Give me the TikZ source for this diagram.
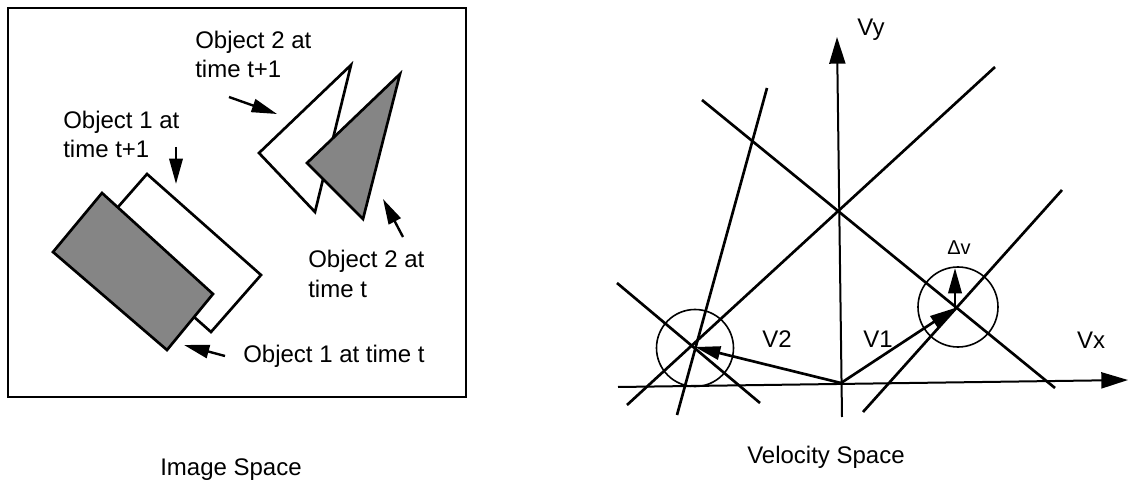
\documentclass[tikz,border=0pt]{standalone}
\usepackage{fontspec}
\setmainfont{Liberation Sans}
\usetikzlibrary{arrows.meta}
\begin{document}
\begin{tikzpicture}[x=0.75pt,y=-0.75pt,
  lbl/.style={font=\fontsize{18}{22}\selectfont, inner sep=0pt, align=left, anchor=base west},
  captext/.style={font=\fontsize{18}{22}\selectfont, inner sep=0pt, anchor=base},
  smalltext/.style={font=\fontsize{15}{17}\selectfont, inner sep=0pt, anchor=base},
  obj/.style={draw, line width=2pt, line join=miter},
  grayobj/.style={obj, fill=black!48},
  pointer/.style={line width=1.8pt, -{Triangle[length=19pt,width=10pt]}},
  vline/.style={line width=2pt},
  ring/.style={line width=1.2pt},
  axis/.style={line width=1.5pt, -{Triangle[length=20pt,width=12pt]}},
  vec/.style={line width=2pt, -{Triangle[length=19pt,width=10pt]}}]
\useasboundingbox (0,0) rectangle (1129,481);
% ---------- Image space ----------
\draw[line width=1.6pt] (8,8) rectangle (466,397);
% object 1 at t+1 (white) and at t (gray)
\draw[obj, fill=white] (147,174) -- (261,275) -- (211,332) -- (97,231) -- cycle;
\draw[grayobj] (102,193) -- (213,294) -- (167,350) -- (53,252) -- cycle;
% object 2 at t+1 (white) and at t (gray)
\draw[obj, fill=white] (351,65) -- (259,153) -- (315,212) -- cycle;
\draw[grayobj] (400,74) -- (307,163) -- (363,219) -- cycle;
% labels (anchored at the baseline of their last line)
\node[lbl] (o2n) at (195,78) {Object 2 at\\time t+1};
\node[lbl] (o1n) at (63,158) {Object 1 at\\time t+1};
\node[lbl] (o2) at (308,297) {Object 2 at\\time t};
\node[lbl] (o1) at (243,362) {Object 1 at time t};
\coordinate (a1s) at (229,97);  \coordinate (a1e) at (277,114);
\coordinate (a2s) at (176,147); \coordinate (a2e) at (176,184);
\coordinate (a3s) at (225,356); \coordinate (a3e) at (184,345);
\coordinate (a4s) at (403,237); \coordinate (a4e) at (383,199);
\draw[pointer] (a1s) -- (a1e);
\draw[pointer] (a2s) -- (a2e);
\draw[pointer] (a3s) -- (a3e);
\draw[pointer] (a4s) -- (a4e);
\node[captext] (imgcap) at (231,475) {Image Space};
% ---------- Velocity space ----------
\coordinate (O) at (841,383);
\coordinate (vyb) at (842,417); \coordinate (vyt) at (837,37);
\coordinate (vxl) at (618,387); \coordinate (vxr) at (1128,380);
\draw[axis] (vyb) -- (vyt);
\draw[axis] (vxl) -- (vxr);
\node[captext] (vy) at (871,36) {Vy};
\node[captext] (vx) at (1091,348) {Vx};
% constraint lines
\coordinate (la1) at (627,405); \coordinate (la2) at (995,67);
\coordinate (lb1) at (702,100); \coordinate (lb2) at (1055,388);
\coordinate (lc1) at (767,88);  \coordinate (lc2) at (677,415);
\coordinate (ld1) at (617,283); \coordinate (ld2) at (760,403);
\coordinate (le1) at (863,412); \coordinate (le2) at (1062,190);
\draw[vline] (la1) -- (la2);
\draw[vline] (lb1) -- (lb2);
\draw[vline] (lc1) -- (lc2);
\draw[vline] (ld1) -- (ld2);
\draw[vline] (le1) -- (le2);
% solutions
\coordinate (V2) at (695,347);
\coordinate (V1) at (955,308);
\coordinate (dv) at (955,268);
\draw[ring] (695,348) circle[radius=38.5];
\draw[ring] (958,307) circle[radius=40];
\draw[vec] (O) -- (V2);
\draw[vec] (O) -- (V1);
\draw[vec] (V1) -- (dv);
\node[captext] (v2l) at (777,347) {V2};
\node[captext] (v1l) at (878,347) {V1};
\node[smalltext] (dvl) at (959,255) {Δv};
\node[captext] (velcap) at (826,463) {Velocity Space};
\end{tikzpicture}
\end{document}
